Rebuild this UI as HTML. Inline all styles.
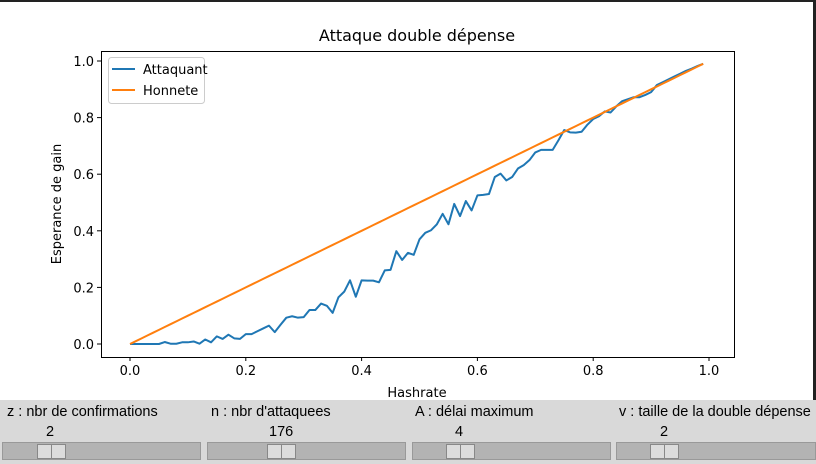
<!DOCTYPE html>
<html><head><meta charset="utf-8"><style>
body{margin:0;width:816px;height:464px;overflow:hidden;background:#fff;font-family:"Liberation Sans","DejaVu Sans",sans-serif;position:relative}
#bar{position:absolute;left:0;top:400px;width:816px;height:64px;background:#d9d9d9}
.lbl{position:absolute;font-size:14.5px;color:#000;white-space:nowrap}
.trough{position:absolute;top:442px;height:18px;background:#b3b3b3;border:1px solid #999;box-sizing:border-box}
.handle{position:absolute;top:444px;height:15px;width:29px;background:#dcdcdc;border:1px solid #888;box-sizing:border-box}
.handle:after{content:"";position:absolute;left:13px;top:0;width:1px;height:13px;background:#888}
</style></head><body>
<div style="position:absolute;left:0;top:0;width:816px;height:2px;background:#222"></div>
<div style="position:absolute;left:813px;top:0;width:3px;height:400px;background:#222"></div>
<svg id="chart" width="816" height="400" style="position:absolute;left:0;top:0"></svg>
<div id="bar"></div>
<div class="lbl" style="left:7px;top:404px">z : nbr de confirmations</div>
<div class="lbl" style="left:46px;top:424px">2</div>
<div class="trough" style="left:2px;width:199px"></div>
<div class="handle" style="left:37px"></div>
<div class="lbl" style="left:211px;top:404px">n : nbr d'attaquees</div>
<div class="lbl" style="left:269px;top:424px">176</div>
<div class="trough" style="left:207px;width:199px"></div>
<div class="handle" style="left:267px"></div>
<div class="lbl" style="left:415px;top:404px">A : délai maximum</div>
<div class="lbl" style="left:455px;top:424px">4</div>
<div class="trough" style="left:412px;width:199px"></div>
<div class="handle" style="left:446px"></div>
<div class="lbl" style="left:619px;top:404px">v : taille de la double dépense</div>
<div class="lbl" style="left:660px;top:424px">2</div>
<div class="trough" style="left:616px;width:200px"></div>
<div class="handle" style="left:650px"></div>
<script>
const xTicks=[0,0.2,0.4,0.6,0.8,1.0];
const yTicks=[0,0.2,0.4,0.6,0.8,1.0];
const attaquant=[0,0,0,0,0,0,.007,.001,.001,.006,.006,.009,.001,.016,.006,.027,.018,.033,.02,.018,.035,.035,.045,.055,.065,.042,.068,.093,.098,.093,.095,.12,.12,.143,.135,.11,.165,.185,.225,.167,.225,.224,.224,.218,.26,.262,.328,.297,.322,.315,.37,.393,.402,.423,.46,.423,.495,.452,.505,.472,.525,.527,.53,.59,.602,.578,.59,.62,.632,.65,.677,.686,.686,.686,.72,.756,.748,.747,.75,.775,.795,.805,.822,.818,.84,.858,.865,.872,.872,.88,.89,.915,.925,.935,.945,.955,.965,.973,.982,.99];
const hashrate=attaquant.map((_,i)=>i/100);
const honnete=hashrate.slice();
const NS="http://www.w3.org/2000/svg";
const svg=document.getElementById('chart');
const L=101,R=734,T=51,B=357;
const F='DejaVu Sans, sans-serif';
const X=v=>130+v*579, Y=v=>344-v*283;
function mk(t,a,p){const e=document.createElementNS(NS,t);for(const k in a)e.setAttribute(k,a[k]);(p||svg).appendChild(e);return e;}
for(const t of xTicks){
 const l=mk('line',{x1:X(t),x2:X(t),y1:B,y2:B+4,stroke:'#000'});
 
 
 const tx=mk('text',{x:X(t),y:B+18,'text-anchor':'middle','font-size':13,'font-family':F});
 tx.textContent=t.toFixed(1);
 
 
}
for(const t of yTicks){
 const l=mk('line',{x1:L-4,x2:L,y1:Y(t),y2:Y(t),stroke:'#000'});
 
 
 const tx=mk('text',{x:L-7,y:Y(t)+5,'text-anchor':'end','font-size':13,'font-family':F});
 tx.textContent=t.toFixed(1);
 
 
}
const pts=(ys)=>ys.map((v,i)=>X(hashrate[i])+','+Y(v)).join(' ');
const a=mk('polyline',{points:pts(attaquant),fill:'none',stroke:'#1f77b4','stroke-width':2,'stroke-linejoin':'round'});


const h=mk('polyline',{points:pts(honnete),fill:'none',stroke:'#ff7f0e','stroke-width':2});


const fr=mk('rect',{x:L+.5,y:T+.5,width:R-L,height:B-T,fill:'none',stroke:'#000','stroke-width':1});


const ti=mk('text',{x:417,y:41,'text-anchor':'middle','font-size':16,'font-family':F});
ti.textContent='Attaque double dépense';


const xl=mk('text',{x:417,y:397,'text-anchor':'middle','font-size':13,'font-family':F});
xl.textContent='Hashrate';


const yl=mk('text',{x:0,y:0,'text-anchor':'middle','font-size':13,'font-family':F,transform:'translate(61,204) rotate(-90)'});
yl.textContent='Esperance de gain';


const lg=mk('g',{});


mk('rect',{x:108.5,y:57.5,width:96,height:46,rx:3,fill:'#fff',stroke:'#ccc'},lg);
mk('line',{x1:112,x2:135,y1:69,y2:69,stroke:'#1f77b4','stroke-width':2},lg);
mk('line',{x1:112,x2:135,y1:90,y2:90,stroke:'#ff7f0e','stroke-width':2},lg);
const t1=mk('text',{x:143,y:74,'font-size':13,'font-family':F},lg);t1.textContent='Attaquant';


const t2=mk('text',{x:143,y:95,'font-size':13,'font-family':F},lg);t2.textContent='Honnete';


</script>
</body></html>
